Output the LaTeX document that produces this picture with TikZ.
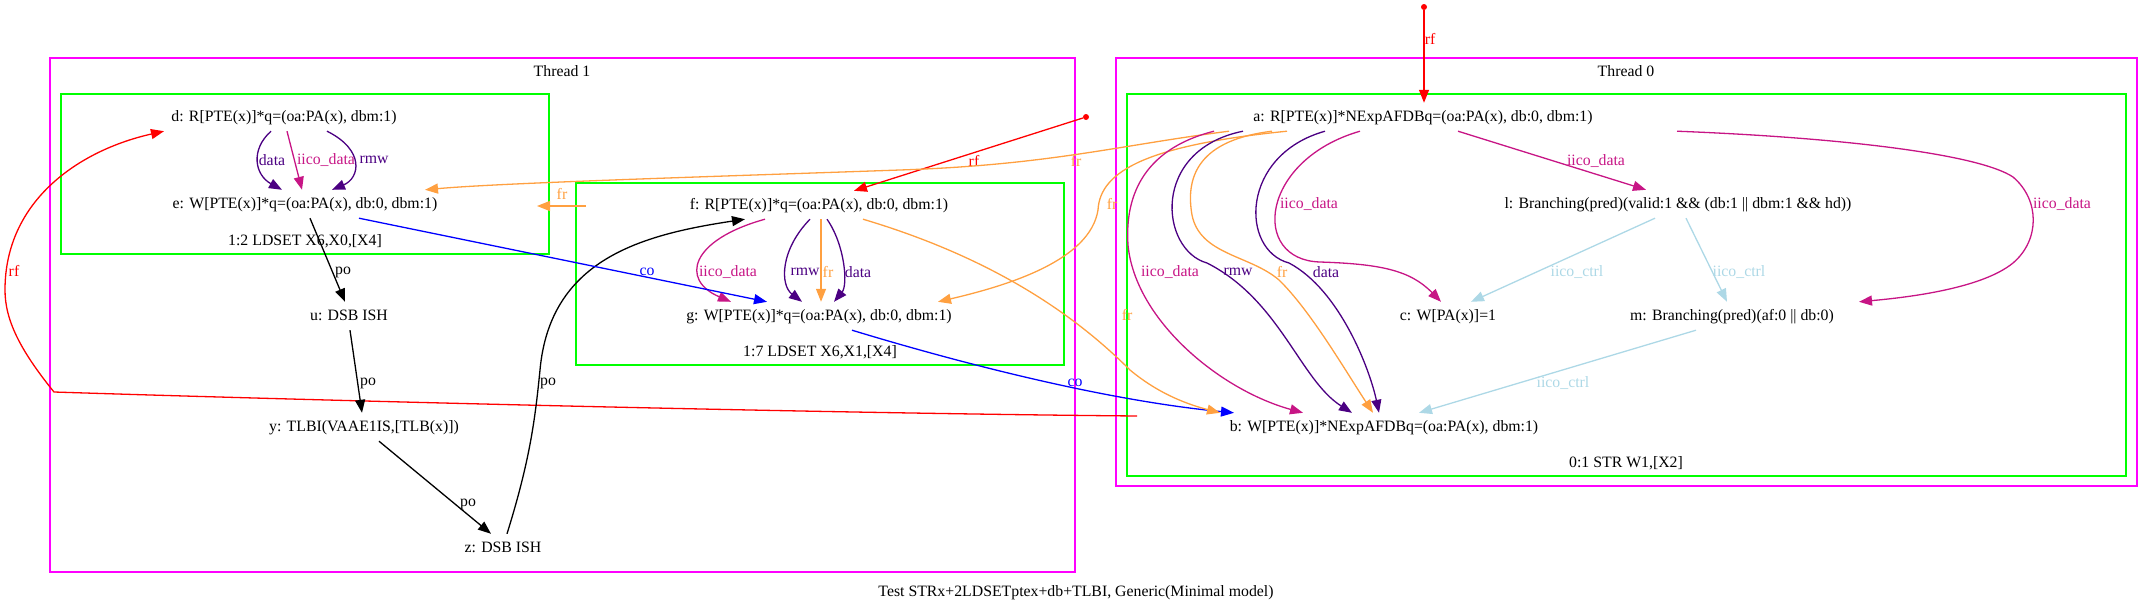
\documentclass[tikz,border=0pt]{standalone}
\usepackage{fontspec}
\setmainfont{Liberation Serif}
\usetikzlibrary{arrows.meta}
\definecolor{thrcol}{HTML}{FF00FF}
\definecolor{inscol}{HTML}{00FF00}
\definecolor{frcol}{HTML}{FFA040}
\definecolor{depcol}{HTML}{4B0082}
\definecolor{iicodcol}{HTML}{C71585}
\definecolor{iicoccol}{HTML}{ADD8E6}
\tikzset{
ev/.style={font=\fontsize{15.8}{18}\selectfont,inner xsep=2pt,inner ysep=7pt,text height=11pt,text depth=3pt},
lbl/.style={font=\fontsize{15.8}{18}\selectfont,inner sep=0pt},
edge/.style={line width=1.3pt,-{Triangle[length=13pt,width=10pt]}},
rfedge/.style={edge,red},
poedge/.style={edge,black},
coedge/.style={edge,blue},
fredge/.style={edge,frcol},
depedge/.style={edge,depcol},
iicod/.style={edge,iicodcol},
iicoc/.style={edge,iicoccol},
thread/.style={draw=thrcol,line width=1.4pt},
instr/.style={draw=inscol,line width=1.4pt},
initdot/.style={circle,fill=red,inner sep=0pt,minimum size=6pt}
}
\begin{document}
\begin{tikzpicture}[x=1pt,y=-1pt]
\useasboundingbox (0,0) rectangle (2153,613);
\draw[thread] (50,58) rectangle (1075,572);
\draw[thread] (1116,58) rectangle (2137,486);
\draw[instr] (61,94) rectangle (549,254);
\draw[instr] (576,183) rectangle (1064,365);
\draw[instr] (1127,94) rectangle (2126,476);
\node[lbl] (thr1) at (562,71) {Thread 1};
\node[lbl] (thr0) at (1626,71) {Thread 0};
\node[lbl] (ins12) at (305,241) {1:2 LDSET X6,X0,[X4]};
\node[lbl] (ins17) at (820,352) {1:7 LDSET X6,X1,[X4]};
\node[lbl] (ins01) at (1626,463) {0:1 STR W1,[X2]};
\node[lbl] (caption) at (1076,593) {Test STRx+2LDSETptex+db+TLBI, Generic(Minimal model)};
% events
\node[ev] (d) at (284,117) {d: R[PTE(x)]*q=(oa:PA(x), dbm:1)};
\node[ev] (e) at (305,204) {e: W[PTE(x)]*q=(oa:PA(x), db:0, dbm:1)};
\node[ev] (u) at (349,316) {u: DSB ISH};
\node[ev] (y) at (364,427) {y: TLBI(VAAE1IS,[TLB(x)])};
\node[ev] (z) at (503,548) {z: DSB ISH};
\node[ev] (f) at (819,205) {f: R[PTE(x)]*q=(oa:PA(x), db:0, dbm:1)};
\node[ev] (g) at (819,316) {g: W[PTE(x)]*q=(oa:PA(x), db:0, dbm:1)};
\node[ev] (a) at (1423,117) {a: R[PTE(x)]*NExpAFDBq=(oa:PA(x), db:0, dbm:1)};
\node[ev] (l) at (1678,204) {l: Branching(pred)(valid:1 \&\& (db:1 || dbm:1 \&\& hd))};
\node[ev] (c) at (1448,316) {c: W[PA(x)]=1};
\node[ev] (m) at (1732,316) {m: Branching(pred)(af:0 || db:0)};
\node[ev] (b) at (1384,427) {b: W[PTE(x)]*NExpAFDBq=(oa:PA(x), dbm:1)};
\node[initdot] (init0) at (1424,7) {};
\node[initdot] (init1) at (1086,117) {};
\coordinate (bout) at (1137,416);
\coordinate (fout) at (586,206);
\coordinate (ein) at (537,206);
% rf
\draw[rfedge] (init0) -- (init0 |- a.north);
\draw[rfedge] (init1) -- ([xshift=35pt]f.north);
\draw[rfedge] (bout) .. controls (800,413) and (300,400) .. (54,392) .. controls (20,350) and (5,320) .. (5,290) .. controls (5,200) and (80,150) .. ([xshift=-120pt]d.south);
\node[lbl,red] (lrf0) at (1430,39) {rf};
\node[lbl,red] (lrf1) at (974,161) {rf};
\node[lbl,red] (lrf2) at (14,271) {rf};
% po
\draw[poedge] ([xshift=5pt]e.south) -- ([xshift=-4pt]u.north);
\draw[poedge] ([xshift=1pt]u.south) -- ([xshift=-2pt]y.north);
\draw[poedge] ([xshift=15pt]y.south) -- ([xshift=-12pt]z.north);
\draw[poedge] ([xshift=4pt]z.north) .. controls (530,460) and (535,420) .. (540,370) .. controls (550,260) and (640,235) .. ([xshift=-74pt]f.south);
\node[lbl] (lpo0) at (343,272) {po};
\node[lbl] (lpo1) at (368,383) {po};
\node[lbl] (lpo2) at (468,504) {po};
\node[lbl] (lpo3) at (548,383) {po};
% thread 1
\draw[depedge] ([xshift=-13pt]d.south) .. controls (250,150) and (255,175) .. ([xshift=-23pt]e.north);
\draw[iicod] ([xshift=3pt]d.south) -- ([xshift=-3pt]e.north);
\draw[depedge] ([xshift=43pt]d.south) .. controls (365,150) and (360,178) .. ([xshift=27pt]e.north);
\node[lbl,depcol] (lde0) at (272,160) {data};
\node[lbl,iicodcol] (lde1) at (326,160) {iico\_data};
\node[lbl,depcol] (lde2) at (374,160) {rmw};
\draw[iicod] ([xshift=-54pt]f.south) .. controls (690,240) and (680,280) .. ([xshift=-88pt]g.north);
\draw[depedge] ([xshift=-9pt]f.south) .. controls (780,250) and (780,285) .. ([xshift=-17pt]g.north);
\draw[fredge] ([xshift=2pt]f.south) -- ([xshift=2pt]g.north);
\draw[depedge] ([xshift=8pt]f.south) .. controls (845,245) and (848,285) .. ([xshift=15pt]g.north);
\node[lbl,iicodcol] (lfg0) at (728,272) {iico\_data};
\node[lbl,depcol] (lfg1) at (805,272) {rmw};
\node[lbl,frcol] (lfg2) at (828,272) {fr};
\node[lbl,depcol] (lfg3) at (858,272) {data};
\draw[fredge] (fout) -- (ein);
\node[lbl,frcol] (lfe) at (562,194) {fr};
% co
\draw[coedge] ([xshift=54pt]e.south) -- ([xshift=-52pt]g.north);
\draw[coedge] ([xshift=33pt]g.south) .. controls (950,360) and (1100,400) .. ([xshift=-150pt]b.north);
\node[lbl,blue] (lco0) at (647,272) {co};
\node[lbl,blue] (lco1) at (1075,383) {co};
% fr
\draw[fredge] ([xshift=44pt]f.south) .. controls (1000,260) and (1080,320) .. (1130,370) .. controls (1160,395) and (1190,405) .. ([xshift=-164pt]b.north);
\draw[fredge] ([xshift=-194pt]a.south) .. controls (1120,145) and (1050,165) .. (900,170) .. controls (700,177) and (500,183) .. ([xshift=120pt]e.north);
\draw[fredge] ([xshift=-136pt]a.south) .. controls (1150,145) and (1100,170) .. (1098,210) .. controls (1090,260) and (1010,285) .. ([xshift=119pt]g.north);
\draw[fredge] ([xshift=-151pt]a.south) .. controls (1200,140) and (1185,175) .. (1192,215) .. controls (1200,255) and (1250,255) .. (1279,280) .. controls (1310,310) and (1345,370) .. ([xshift=-11pt]b.north);
\node[lbl,frcol] (lfr0) at (1127,315) {fr};
\node[lbl,frcol] (lfr1) at (1076,161) {fr};
\node[lbl,frcol] (lfr2) at (1112,204) {fr};
\node[lbl,frcol] (lfr3) at (1282,272) {fr};
% thread 0
\draw[iicod] ([xshift=-209pt]a.south) .. controls (1140,150) and (1125,200) .. (1128,245) .. controls (1135,320) and (1220,390) .. ([xshift=-81pt]b.north);
\draw[depedge] ([xshift=-180pt]a.south) .. controls (1150,150) and (1160,250) .. (1207,263) .. controls (1280,300) and (1300,380) .. ([xshift=-32pt]b.north);
\draw[depedge] ([xshift=-98pt]a.south) .. controls (1240,155) and (1240,250) .. (1289,263) .. controls (1340,290) and (1370,370) .. ([xshift=-5pt]b.north);
\draw[iicod] ([xshift=-63pt]a.south) .. controls (1260,160) and (1250,260) .. (1320,262) .. controls (1380,264) and (1410,270) .. ([xshift=-7pt]c.north);
\draw[iicod] ([xshift=35pt]a.south) -- ([xshift=-32pt]l.north);
\draw[iicod] ([xshift=254pt]a.south) .. controls (1850,138) and (1980,155) .. (2013,177) .. controls (2040,200) and (2040,240) .. (2013,263) .. controls (1980,290) and (1900,298) .. ([xshift=127pt]m.north);
\draw[iicoc] ([xshift=-23pt]l.south) -- ([xshift=23pt]c.north);
\draw[iicoc] ([xshift=8pt]l.south) -- ([xshift=-5pt]m.north);
\draw[iicoc] ([xshift=-36pt]m.south) -- ([xshift=35pt]b.north);
\node[lbl,iicodcol] (lab0) at (1170,272) {iico\_data};
\node[lbl,depcol] (lab1) at (1238,272) {rmw};
\node[lbl,depcol] (lab2) at (1326,272) {data};
\node[lbl,iicodcol] (lac) at (1309,204) {iico\_data};
\node[lbl,iicodcol] (lal) at (1596,161) {iico\_data};
\node[lbl,iicodcol] (lam) at (2062,204) {iico\_data};
\node[lbl,iicoccol] (llc) at (1577,272) {iico\_ctrl};
\node[lbl,iicoccol] (llm) at (1739,272) {iico\_ctrl};
\node[lbl,iicoccol] (lmb) at (1563,383) {iico\_ctrl};
\end{tikzpicture}
\end{document}
